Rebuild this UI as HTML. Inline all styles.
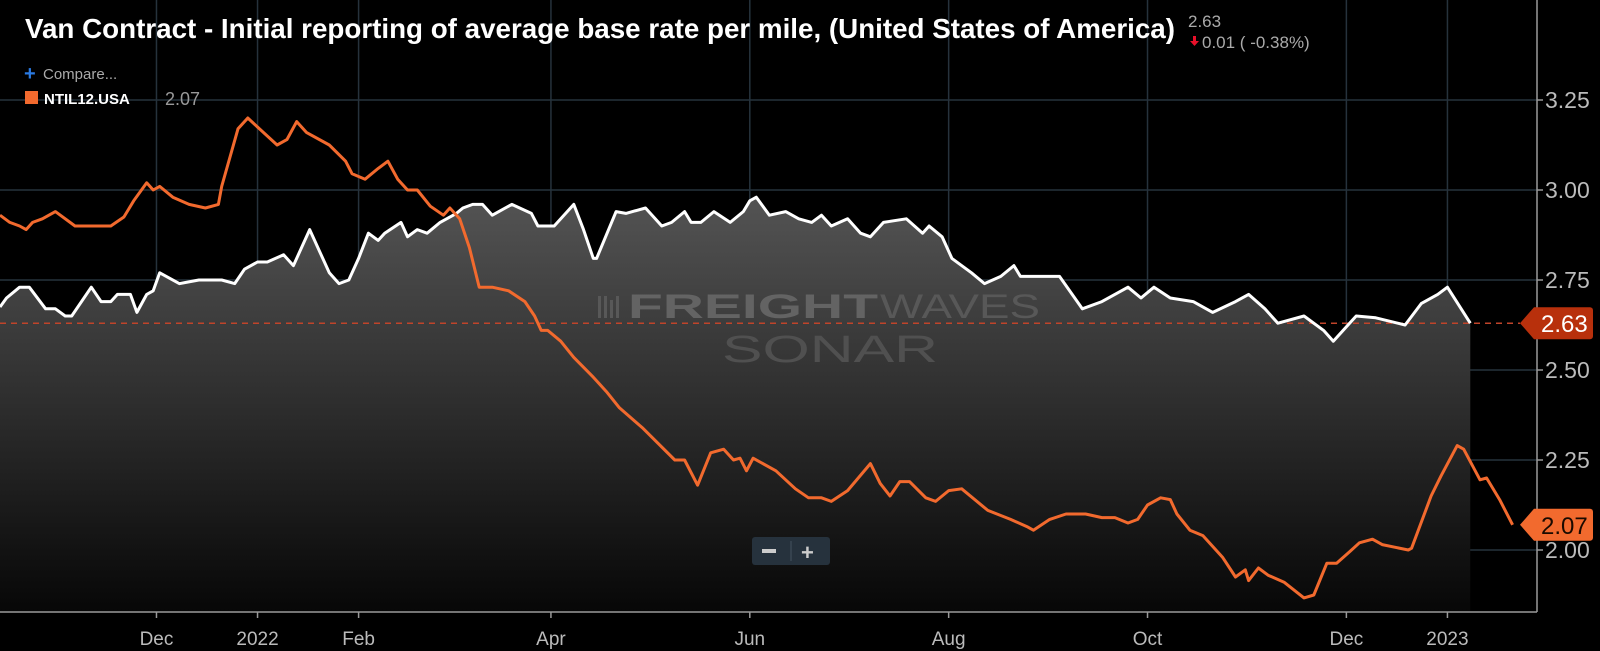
<!DOCTYPE html>
<html><head><meta charset="utf-8"><style>
html,body{margin:0;padding:0;background:#000;}
svg{display:block;font-family:"Liberation Sans",sans-serif;}
</style></head><body>
<svg id="chart" width="1600" height="651" viewBox="0 0 1600 651" xmlns="http://www.w3.org/2000/svg">
<defs>
<linearGradient id="areaGrad" gradientUnits="userSpaceOnUse" x1="0" y1="190" x2="0" y2="612">
<stop offset="0" stop-color="#555555"/><stop offset="1" stop-color="#070707"/>
</linearGradient>
</defs>
<rect x="0" y="0" width="1600" height="651" fill="#000"/>
<g id="grid"></g>
<path id="area" fill="url(#areaGrad)"/>
<g fill="#6a6a6a" opacity="0.85">
<text x="628" y="318" font-size="34" font-weight="bold" textLength="250" lengthAdjust="spacingAndGlyphs">FREIGHT</text>
<text x="880" y="318" font-size="34" textLength="160" lengthAdjust="spacingAndGlyphs" fill="#5d5d5d">WAVES</text>
<text x="722" y="362" font-size="38" textLength="216" lengthAdjust="spacingAndGlyphs" fill="#555">SONAR</text>
<g fill="#5d5d5d"><rect x="598" y="296" width="3" height="22"/><rect x="604" y="296" width="3" height="22"/><rect x="610" y="300" width="3" height="18"/><rect x="616" y="296" width="3" height="22"/></g>
</g>
<line id="lastLine" stroke="#c0442a" stroke-width="1.5" stroke-dasharray="6,5"/>
<path id="whiteLine" fill="none" stroke="#fff" stroke-width="3" stroke-linejoin="round"/>
<path id="orangeLine" fill="none" stroke="#f26a2e" stroke-width="3" stroke-linejoin="round"/>
<g id="axes"></g>
<text x="25" y="38" font-size="28" font-weight="bold" fill="#fff" textLength="1150" lengthAdjust="spacingAndGlyphs">Van Contract - Initial reporting of average base rate per mile, (United States of America)</text>
<text x="1188" y="27" font-size="17" fill="#aaa">2.63</text>
<path d="M1193,36 h3 v5 h3 l-4.5,5 l-4.5,-5 h3z" fill="#e8102a"/>
<text x="1202" y="48" font-size="17" fill="#aaa">0.01 ( -0.38%)</text>
<text x="24" y="80" font-size="20" font-weight="bold" fill="#2a7ae2">+</text>
<text x="43" y="79" font-size="15" fill="#aaa">Compare...</text>
<rect x="25" y="91" width="13" height="13" fill="#f26a2e"/>
<text x="44" y="104" font-size="15" font-weight="bold" fill="#fff">NTIL12.USA</text>
<text x="165" y="105" font-size="18" fill="#999">2.07</text>
<g>
<rect x="752" y="537" width="78" height="28" rx="3" fill="#26323d"/>
<rect x="762" y="549" width="14" height="4" fill="#ccc"/>
<line x1="791" y1="541" x2="791" y2="561" stroke="#44525e"/>
<text x="801" y="560" font-size="22" font-weight="bold" fill="#ccc">+</text>
</g>
<g id="badges"></g>
</svg>
<script>
const yTicks = [2.00, 2.25, 2.50, 2.75, 3.00, 3.25];
const yTickLabels = ["2.00", "2.25", "2.50", "2.75", "3.00", "3.25"];
const xTickDays = [48, 79, 110, 169, 230, 291, 352, 413, 444];
const xTickLabels = ["Dec", "2022", "Feb", "Apr", "Jun", "Aug", "Oct", "Dec", "2023"];
const whiteDays = [0,2,6,9,14,17,20,22,28,31,34,36,40,42,45,47,49,55,61,68,72,75,79,82,87,90,95,98,101,104,107,110,113,116,118,123,125,128,131,135,140,142,145,148,151,157,163,165,170,176,179,182,183,189,192,198,203,206,210,212,215,219,224,228,230,232,236,241,245,249,252,255,260,264,267,271,278,283,285,289,292,298,302,307,311,313,322,325,332,338,346,350,354,359,366,372,379,383,388,392,400,406,409,414,416,422,431,436,441,444,451];
const whiteValues = [2.675,2.70,2.73,2.73,2.67,2.67,2.65,2.65,2.73,2.69,2.69,2.71,2.71,2.66,2.71,2.72,2.77,2.74,2.75,2.75,2.74,2.78,2.80,2.80,2.82,2.79,2.89,2.83,2.77,2.74,2.75,2.81,2.88,2.86,2.88,2.91,2.87,2.89,2.88,2.91,2.935,2.95,2.96,2.96,2.93,2.96,2.935,2.90,2.90,2.96,2.89,2.81,2.81,2.94,2.935,2.95,2.90,2.91,2.94,2.91,2.91,2.94,2.91,2.94,2.97,2.98,2.93,2.94,2.92,2.91,2.93,2.90,2.92,2.88,2.87,2.91,2.92,2.88,2.90,2.87,2.81,2.77,2.74,2.76,2.79,2.76,2.76,2.76,2.67,2.69,2.73,2.70,2.73,2.70,2.69,2.66,2.69,2.71,2.67,2.63,2.65,2.61,2.58,2.63,2.65,2.645,2.625,2.685,2.71,2.73,2.63];
const orangeDays = [0,3,6,8,10,13,17,23,34,38,41,45,47,49,53,58,63,67,68,73,76,79,85,88,91,94,101,106,108,112,116,119,122,125,128,132,136,138,141,144,147,151,156,161,164,166,168,172,176,182,186,190,197,207,210,214,218,222,225,227,229,231,238,244,248,252,255,260,267,270,273,276,279,284,287,291,295,303,310,315,317,322,327,333,338,342,346,349,352,356,359,361,365,369,375,379,382,383,386,389,394,400,403,407,410,414,417,421,424,432,433,439,442,447,449,454,456,460,464];
const orangeValues = [2.93,2.91,2.90,2.89,2.91,2.92,2.94,2.90,2.90,2.925,2.97,3.02,3.00,3.01,2.98,2.96,2.95,2.96,3.01,3.17,3.20,3.175,3.125,3.14,3.19,3.16,3.125,3.08,3.045,3.03,3.06,3.08,3.03,3.00,3.00,2.955,2.93,2.95,2.92,2.84,2.73,2.73,2.72,2.69,2.65,2.61,2.61,2.58,2.535,2.48,2.44,2.395,2.34,2.25,2.25,2.18,2.27,2.28,2.25,2.255,2.22,2.255,2.22,2.17,2.145,2.145,2.135,2.165,2.24,2.185,2.15,2.19,2.19,2.145,2.135,2.165,2.17,2.11,2.085,2.065,2.055,2.085,2.10,2.10,2.09,2.09,2.075,2.085,2.125,2.145,2.14,2.10,2.055,2.04,1.98,1.925,1.945,1.915,1.95,1.93,1.91,1.867,1.875,1.963,1.963,1.995,2.02,2.03,2.015,2.00,2.005,2.15,2.205,2.29,2.28,2.195,2.20,2.14,2.07];

const NS = "http://www.w3.org/2000/svg";
const PLOT_RIGHT = 1537, PLOT_BOTTOM = 612;
function xScale(d){ return d * 3.26; }
function yScale(v){ return 550 - (v - 2) * 360; }
function mk(tag, attrs, parent){ const e=document.createElementNS(NS,tag); for(const k in attrs) e.setAttribute(k, attrs[k]); parent.appendChild(e); return e; }

const grid = document.getElementById('grid');
const axes = document.getElementById('axes');
yTicks.forEach((v,i)=>{
  const y=yScale(v);
  const gl=mk('line',{x1:0,x2:PLOT_RIGHT,y1:y,y2:y,stroke:'#26323c','stroke-width':1.5},grid);
  
  
  const tk=mk('line',{x1:PLOT_RIGHT,x2:PLOT_RIGHT+6,y1:y,y2:y,stroke:'#999','stroke-width':1.5},axes);
  
  
  const t=mk('text',{x:1545,y:y+8,'font-size':23,fill:'#bbb'},axes);
  t.textContent=yTickLabels[i];
  
  
});
xTickDays.forEach((d,i)=>{
  const x=xScale(d);
  const gl=mk('line',{x1:x,x2:x,y1:0,y2:PLOT_BOTTOM,stroke:'#26323c','stroke-width':1.5},grid);
  
  
  const tk=mk('line',{x1:x,x2:x,y1:PLOT_BOTTOM,y2:PLOT_BOTTOM+6,stroke:'#999','stroke-width':1.5},axes);
  
  
  const t=mk('text',{x:x,y:645,'font-size':19,fill:'#bbb','text-anchor':'middle'},axes);
  t.textContent=xTickLabels[i];
  
  
});
const xa=mk('line',{x1:0,x2:PLOT_RIGHT,y1:PLOT_BOTTOM,y2:PLOT_BOTTOM,stroke:'#9a9a9a','stroke-width':1.5},axes);


const ya=mk('line',{x1:PLOT_RIGHT,x2:PLOT_RIGHT,y1:0,y2:PLOT_BOTTOM,stroke:'#9a9a9a','stroke-width':1.5},axes);



function linePath(days, vals){ return days.map((d,i)=>(i?'L':'M')+xScale(d).toFixed(1)+','+yScale(vals[i]).toFixed(1)).join(''); }
const wp=linePath(whiteDays,whiteValues);
document.getElementById('whiteLine').setAttribute('d',wp);
const lastW=whiteDays[whiteDays.length-1];
document.getElementById('area').setAttribute('d',wp+'L'+xScale(lastW)+','+PLOT_BOTTOM+'L'+xScale(whiteDays[0])+','+PLOT_BOTTOM+'Z');
document.getElementById('orangeLine').setAttribute('d',linePath(orangeDays,orangeValues));

const lastWV=whiteValues[whiteValues.length-1];
const lastOV=orangeValues[orangeValues.length-1];
const dl=document.getElementById('lastLine');
dl.setAttribute('x1',0); dl.setAttribute('x2',1520); dl.setAttribute('y1',yScale(lastWV)); dl.setAttribute('y2',yScale(lastWV));

const badges=document.getElementById('badges');
function badge(v,bg,fg,name){
  const y=yScale(v);
  const p=mk('path',{d:`M1520,${y} L1534,${y-16} H1590 a3,3 0 0 1 3,3 V${y+13} a3,3 0 0 1 -3,3 H1534 Z`,fill:bg},badges);
  
  
  const t=mk('text',{x:1541,y:y+9,'font-size':24,fill:fg},badges);
  t.textContent=v.toFixed(2);
  
  
}
badge(lastWV,'#b8300c','#fff','van-contract-last-badge');
badge(lastOV,'#f26a2e','#1a0a00','ntil12-last-badge');
</script>
</body></html>
